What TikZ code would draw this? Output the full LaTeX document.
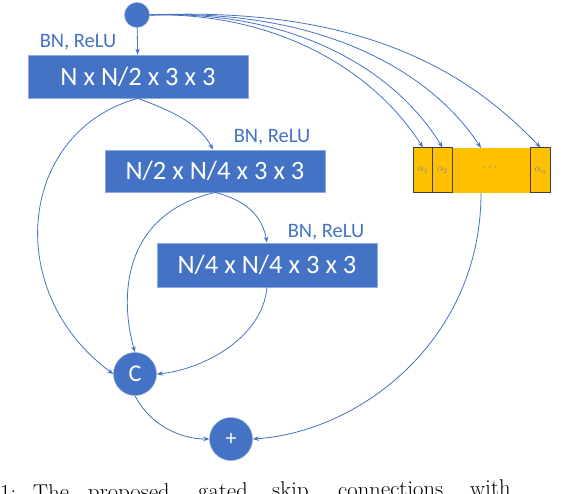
\documentclass[tikz,border=0pt]{standalone}
\usepackage{fontspec}
\setmainfont{Carlito}
\newfontfamily\capfont{Latin Modern Roman}
\usetikzlibrary{arrows.meta}
\definecolor{obl}{HTML}{4472C4}
\definecolor{obd}{HTML}{8FAADC}
\definecolor{gold}{HTML}{FFC000}
\definecolor{cellb}{HTML}{404040}
\definecolor{alf}{HTML}{6F82B0}
\begin{document}
\begin{tikzpicture}[x=1pt,y=-1pt,
  convbox/.style={rectangle, fill=obl, draw=obd, line width=0.8pt, text=white, font=\fontsize{26.5}{30}\selectfont, minimum width=220pt, inner sep=0pt},
  bnlab/.style={text=obl, font=\fontsize{20.5}{24}\selectfont, inner sep=0pt},
  opdot/.style={circle, fill=obl, draw=obd, line width=0.5pt, text=white, inner sep=0pt},
  cellbox/.style={rectangle, fill=gold, draw=cellb, line width=1pt, minimum width=19.5pt, minimum height=45pt, inner sep=0pt, text=alf, font=\fontsize{10}{11}\selectfont},
  conn/.style={draw=obl, line width=0.8pt, -{Stealth[length=6pt,width=4.5pt]}},
  capword/.style={anchor=base west, inner sep=0pt, rotate=0.55, font=\capfont\fontsize{22.7}{26}\selectfont}
]
\useasboundingbox (0,0) rectangle (586,494);

% nodes
\node[opdot, minimum size=25pt] (in) at (137,15) {};
\node[convbox, minimum height=43pt] (b1) at (138,76.5) {N x N/2 x 3 x 3};
\node[convbox, minimum height=42pt] (b2) at (215,171) {N/2 x N/4 x 3 x 3};
\node[convbox, minimum height=44pt] (b3) at (267,265) {N/4 x N/4 x 3 x 3};
\node[bnlab] (l1) at (78,42) {BN, ReLU};
\node[bnlab] (l2) at (272,137) {BN, ReLU};
\node[bnlab] (l3) at (326,232) {BN, ReLU};
\node[opdot, minimum size=43pt, font=\fontsize{24}{28}\selectfont] (cat) at (135,374) {C};
\node[opdot, minimum size=43pt, font=\fontsize{22}{26}\selectfont] (add) at (231,439) {+};

% gate bar
\node[rectangle, fill=gold, minimum width=137pt, minimum height=45pt, inner sep=0pt] (bar) at (481.5,170.5) {};
\node[text=alf, font=\fontsize{12}{12}\selectfont, inner sep=0pt] (dots) at (490,168) {$\cdots$};
\node[cellbox] (a1) at (423,170.5) {$\alpha_1$};
\node[cellbox] (a2) at (442.5,170.5) {$\alpha_2$};
\node[cellbox] (an) at (540.5,170.5) {$\alpha_n$};
\coordinate (bartop) at (481,148);
\coordinate (barbot) at (481,193);

% connectors
\draw[conn] (in) -- (b1);
\draw[conn] (in.east) .. controls (270,12) and (370,65) .. (a1.north);
\draw[conn] (in.east) .. controls (295,10) and (395,70) .. (a2.north);
\draw[conn] (in.east) .. controls (330,8) and (435,77) .. (bartop);
\draw[conn] (in.east) .. controls (380,5) and (480,85) .. (an.north);

\draw[conn] (b1.south) .. controls (20,130) and (0,290) .. (cat.west);
\draw[conn] (b1.south) .. controls (175,112) and (200,125) .. (b2.north west -| 213,150);
\draw[conn] (b2.south) .. controls (120,215) and (120,300) .. (cat.north);
\draw[conn] (b2.south) .. controls (245,200) and (262,215) .. (b3.north);
\draw[conn] (b3.south) .. controls (262,340) and (200,370) .. (cat.east);
\draw[conn] (cat.south) .. controls (150,425) and (180,439) .. (add.west);
\draw[conn] (barbot) .. controls (481,340) and (360,432) .. (add.east);

% caption (cut off by the frame, as in the original)
\node[capword] (c1) at (0,500.5) {1:};
\node[capword] (c2) at (33,500.2) {The};
\node[capword] (c3) at (88,499.7) {proposed};
\node[capword] (c4) at (198,498.6) {gated};
\node[capword] (c5) at (272,497.9) {skip};
\node[capword] (c6) at (338,497.3) {connections};
\node[capword] (c7) at (470,496) {with};
\end{tikzpicture}
\end{document}
